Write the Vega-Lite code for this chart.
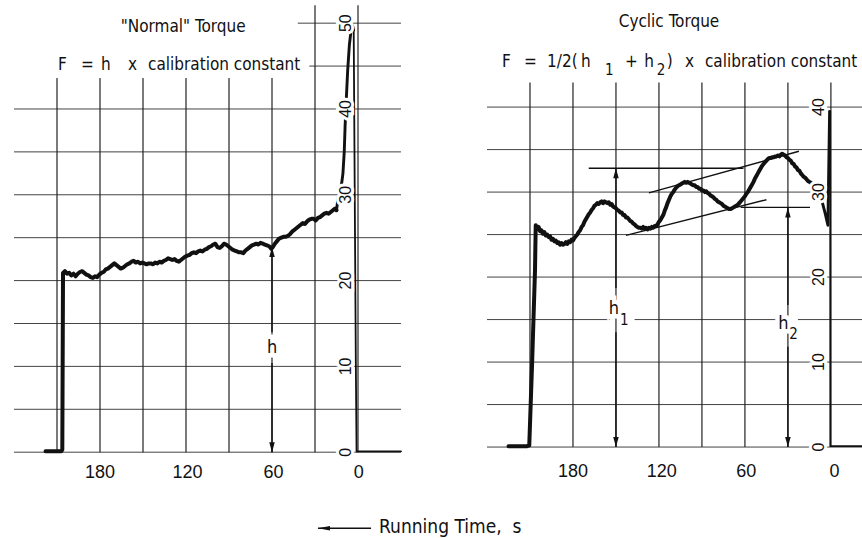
{
"$schema": "https://vega.github.io/schema/vega-lite/v6.json",
"padding": {"left": 13, "top": 0, "right": 0, "bottom": 0},
"background": "white",
"bounds": "flush",
"spacing": 86,
"config": {"view": {"stroke": null}},
"datasets": {
"curveL": [
{"s":"trace","t":218,"v":0.1},{"s":"trace","t":212,"v":0.1},{"s":"trace","t":207,"v":0.1},{"s":"trace","t":206.3,"v":0.3},{"s":"trace","t":205.8,"v":20.9},
{"s":"trace","t":204.5,"v":21.1},{"s":"trace","t":203,"v":20.8},{"s":"trace","t":201.5,"v":20.9},{"s":"trace","t":200,"v":20.6},{"s":"trace","t":198.5,"v":20.8},
{"s":"trace","t":197,"v":20.5},{"s":"trace","t":195.5,"v":20.8},{"s":"trace","t":194,"v":21.0},{"s":"trace","t":192.5,"v":21.1},{"s":"trace","t":191,"v":20.9},
{"s":"trace","t":189.5,"v":20.7},{"s":"trace","t":188,"v":20.6},{"s":"trace","t":186.5,"v":20.4},{"s":"trace","t":185,"v":20.3},{"s":"trace","t":183.5,"v":20.5},
{"s":"trace","t":182,"v":20.4},{"s":"trace","t":180.5,"v":20.7},{"s":"trace","t":179,"v":20.9},{"s":"trace","t":177.5,"v":21.0},{"s":"trace","t":176,"v":21.3},
{"s":"trace","t":174.5,"v":21.4},{"s":"trace","t":173,"v":21.6},{"s":"trace","t":171.5,"v":21.8},{"s":"trace","t":170,"v":22.0},{"s":"trace","t":168.5,"v":21.8},
{"s":"trace","t":167,"v":21.6},{"s":"trace","t":165.5,"v":21.4},{"s":"trace","t":164,"v":21.5},{"s":"trace","t":162.5,"v":21.7},{"s":"trace","t":161,"v":21.9},
{"s":"trace","t":159.5,"v":22.0},{"s":"trace","t":158,"v":22.2},{"s":"trace","t":156.5,"v":22.3},{"s":"trace","t":155,"v":22.1},{"s":"trace","t":153.5,"v":22.2},
{"s":"trace","t":152,"v":22.0},{"s":"trace","t":150.5,"v":22.1},{"s":"trace","t":149,"v":22.0},{"s":"trace","t":147.5,"v":21.9},{"s":"trace","t":146,"v":22.0},
{"s":"trace","t":144.5,"v":22.0},{"s":"trace","t":143,"v":21.9},{"s":"trace","t":141.5,"v":22.1},{"s":"trace","t":140,"v":22.0},{"s":"trace","t":138.5,"v":22.2},
{"s":"trace","t":137,"v":22.1},{"s":"trace","t":135.5,"v":22.3},{"s":"trace","t":134,"v":22.4},{"s":"trace","t":132.5,"v":22.6},{"s":"trace","t":131,"v":22.5},
{"s":"trace","t":129.5,"v":22.4},{"s":"trace","t":128,"v":22.5},{"s":"trace","t":126.5,"v":22.3},{"s":"trace","t":125,"v":22.2},{"s":"trace","t":123.5,"v":22.4},
{"s":"trace","t":122,"v":22.6},{"s":"trace","t":120.5,"v":22.8},{"s":"trace","t":119,"v":22.9},{"s":"trace","t":117.5,"v":23.0},{"s":"trace","t":116,"v":23.2},
{"s":"trace","t":114.5,"v":23.3},{"s":"trace","t":113,"v":23.2},{"s":"trace","t":111.5,"v":23.4},{"s":"trace","t":110,"v":23.5},{"s":"trace","t":108.5,"v":23.4},
{"s":"trace","t":107,"v":23.6},{"s":"trace","t":105.5,"v":23.7},{"s":"trace","t":104,"v":23.9},{"s":"trace","t":102.5,"v":24.0},{"s":"trace","t":101,"v":24.2},
{"s":"trace","t":99.5,"v":24.3},{"s":"trace","t":98,"v":23.9},{"s":"trace","t":96.5,"v":23.8},{"s":"trace","t":95,"v":24.0},{"s":"trace","t":93.5,"v":24.3},
{"s":"trace","t":92,"v":24.2},{"s":"trace","t":90.5,"v":24.0},{"s":"trace","t":89,"v":23.8},{"s":"trace","t":87.5,"v":23.6},{"s":"trace","t":86,"v":23.5},
{"s":"trace","t":84.5,"v":23.4},{"s":"trace","t":83,"v":23.3},{"s":"trace","t":81.5,"v":23.3},{"s":"trace","t":80,"v":23.2},{"s":"trace","t":78.5,"v":23.5},
{"s":"trace","t":77,"v":23.7},{"s":"trace","t":75.5,"v":23.9},{"s":"trace","t":74,"v":24.1},{"s":"trace","t":72.5,"v":24.2},{"s":"trace","t":71,"v":24.3},
{"s":"trace","t":69.5,"v":24.2},{"s":"trace","t":68,"v":24.4},{"s":"trace","t":66.5,"v":24.3},{"s":"trace","t":65,"v":24.2},{"s":"trace","t":63.5,"v":24.1},
{"s":"trace","t":62,"v":24.0},{"s":"trace","t":60.5,"v":23.7},{"s":"trace","t":59.5,"v":23.9},{"s":"trace","t":58,"v":24.3},{"s":"trace","t":56.5,"v":24.6},
{"s":"trace","t":55,"v":24.9},{"s":"trace","t":53.5,"v":25.0},{"s":"trace","t":52,"v":25.1},{"s":"trace","t":50.5,"v":25.1},{"s":"trace","t":49,"v":25.2},
{"s":"trace","t":47.5,"v":25.4},{"s":"trace","t":46,"v":25.7},{"s":"trace","t":44.5,"v":25.9},{"s":"trace","t":43,"v":26.1},{"s":"trace","t":41.5,"v":26.3},
{"s":"trace","t":40,"v":26.5},{"s":"trace","t":38.5,"v":26.7},{"s":"trace","t":37,"v":26.6},{"s":"trace","t":35.5,"v":26.9},{"s":"trace","t":34,"v":27.1},
{"s":"trace","t":32.5,"v":27.2},{"s":"trace","t":31,"v":27.2},{"s":"trace","t":29.5,"v":27.0},{"s":"trace","t":28,"v":27.3},{"s":"trace","t":26.5,"v":27.4},
{"s":"trace","t":25,"v":27.6},{"s":"trace","t":23.5,"v":27.8},{"s":"trace","t":22,"v":27.9},{"s":"trace","t":20.5,"v":27.8},{"s":"trace","t":19,"v":28.0},
{"s":"trace","t":17.5,"v":28.2},{"s":"trace","t":16,"v":28.4},{"s":"trace","t":15,"v":28.2},
{"s":"thin","t":15,"v":28.2},{"s":"thin","t":14,"v":29.5},{"s":"thin","t":13,"v":30.4},{"s":"thin","t":11.5,"v":31.2},{"s":"thin","t":10.5,"v":32.5},
{"s":"thin","t":9.6,"v":35},{"s":"thin","t":9,"v":38},{"s":"thin","t":8.2,"v":41},{"s":"thin","t":7.2,"v":44.5},{"s":"thin","t":6,"v":47.5},
{"s":"thin","t":4.8,"v":49.2},{"s":"thin","t":3.8,"v":49.7},{"s":"thin","t":3.0,"v":49.2},
{"s":"tail","t":3.0,"v":49.2},{"s":"tail","t":1.5,"v":10},{"s":"tail","t":1.0,"v":0.1},{"s":"tail","t":-30,"v":0.1}
],
"curveR": [
{"s":"trace","t":225,"v":0.1},{"s":"trace","t":212,"v":0.1},{"s":"trace","t":210.5,"v":0.2},{"s":"trace","t":208.5,"v":10},{"s":"trace","t":206.5,"v":20.8},
{"s":"trace","t":206,"v":26.1},{"s":"trace","t":205,"v":25.6},{"s":"trace","t":204,"v":25.9},{"s":"trace","t":203,"v":25.4},{"s":"trace","t":202,"v":25.5},
{"s":"trace","t":201,"v":25.1},{"s":"trace","t":200,"v":25.3},{"s":"trace","t":199,"v":24.9},{"s":"trace","t":198,"v":25.0},{"s":"trace","t":197,"v":24.7},
{"s":"trace","t":196,"v":24.8},{"s":"trace","t":195,"v":24.4},{"s":"trace","t":194,"v":24.5},{"s":"trace","t":193,"v":24.2},{"s":"trace","t":192,"v":24.3},
{"s":"trace","t":191,"v":24.0},{"s":"trace","t":190,"v":24.1},{"s":"trace","t":189,"v":23.8},{"s":"trace","t":188,"v":24.0},{"s":"trace","t":187,"v":23.8},
{"s":"trace","t":186,"v":23.9},{"s":"trace","t":185,"v":24.1},{"s":"trace","t":184,"v":23.9},{"s":"trace","t":183,"v":24.2},{"s":"trace","t":182,"v":24.1},
{"s":"trace","t":181,"v":24.4},{"s":"trace","t":180,"v":24.3},{"s":"trace","t":179,"v":24.6},{"s":"trace","t":178,"v":24.8},{"s":"trace","t":177,"v":25.0},
{"s":"trace","t":176,"v":25.3},{"s":"trace","t":175,"v":25.5},{"s":"trace","t":174,"v":25.9},{"s":"trace","t":173,"v":26.1},{"s":"trace","t":172,"v":26.5},
{"s":"trace","t":171,"v":26.8},{"s":"trace","t":170,"v":27.1},{"s":"trace","t":169,"v":27.4},{"s":"trace","t":168,"v":27.6},{"s":"trace","t":167,"v":27.9},
{"s":"trace","t":166,"v":28.1},{"s":"trace","t":165,"v":28.4},{"s":"trace","t":164,"v":28.5},{"s":"trace","t":163,"v":28.7},{"s":"trace","t":162,"v":28.6},
{"s":"trace","t":161,"v":28.8},{"s":"trace","t":160,"v":28.9},{"s":"trace","t":159,"v":28.7},{"s":"trace","t":158,"v":28.9},{"s":"trace","t":157,"v":28.8},
{"s":"trace","t":156,"v":28.7},{"s":"trace","t":155,"v":28.8},{"s":"trace","t":154,"v":28.5},{"s":"trace","t":153,"v":28.6},{"s":"trace","t":152,"v":28.3},
{"s":"trace","t":150,"v":28.1},{"s":"trace","t":149,"v":27.9},{"s":"trace","t":148,"v":27.8},{"s":"trace","t":147,"v":27.6},{"s":"trace","t":146,"v":27.6},
{"s":"trace","t":145,"v":27.3},{"s":"trace","t":144,"v":27.3},{"s":"trace","t":143,"v":27.0},{"s":"trace","t":142,"v":27.0},{"s":"trace","t":141,"v":26.8},
{"s":"trace","t":140,"v":26.6},{"s":"trace","t":139,"v":26.5},{"s":"trace","t":138,"v":26.3},{"s":"trace","t":137,"v":26.2},{"s":"trace","t":136,"v":26.0},
{"s":"trace","t":135,"v":25.9},{"s":"trace","t":134,"v":25.8},{"s":"trace","t":133,"v":25.8},{"s":"trace","t":132,"v":25.7},{"s":"trace","t":131,"v":25.9},
{"s":"trace","t":130,"v":25.7},{"s":"trace","t":129,"v":25.8},{"s":"trace","t":128,"v":25.6},{"s":"trace","t":127,"v":25.8},{"s":"trace","t":126,"v":25.7},
{"s":"trace","t":125,"v":25.9},{"s":"trace","t":124,"v":25.8},{"s":"trace","t":123,"v":26.0},{"s":"trace","t":122,"v":26.0},{"s":"trace","t":121,"v":26.2},
{"s":"trace","t":120,"v":26.5},{"s":"trace","t":119,"v":26.7},{"s":"trace","t":118,"v":27.0},{"s":"trace","t":117,"v":27.3},{"s":"trace","t":116,"v":27.8},
{"s":"trace","t":115,"v":28.2},{"s":"trace","t":114,"v":28.7},{"s":"trace","t":113,"v":29.1},{"s":"trace","t":112,"v":29.5},{"s":"trace","t":111,"v":29.8},
{"s":"trace","t":110,"v":30.0},{"s":"trace","t":109,"v":30.3},{"s":"trace","t":108,"v":30.5},{"s":"trace","t":107,"v":30.7},{"s":"trace","t":106,"v":30.8},
{"s":"trace","t":105,"v":30.9},{"s":"trace","t":104,"v":31.0},{"s":"trace","t":103,"v":31.1},{"s":"trace","t":102,"v":31.2},{"s":"trace","t":101,"v":31.1},
{"s":"trace","t":100,"v":31.2},{"s":"trace","t":99,"v":31.1},{"s":"trace","t":98,"v":31.0},{"s":"trace","t":97,"v":30.9},{"s":"trace","t":96,"v":30.8},
{"s":"trace","t":95,"v":30.8},{"s":"trace","t":94,"v":30.6},{"s":"trace","t":93,"v":30.6},{"s":"trace","t":92,"v":30.4},{"s":"trace","t":91,"v":30.4},
{"s":"trace","t":90,"v":30.2},{"s":"trace","t":89,"v":30.2},{"s":"trace","t":88,"v":30.0},{"s":"trace","t":87,"v":30.1},{"s":"trace","t":86,"v":29.9},
{"s":"trace","t":85,"v":29.8},{"s":"trace","t":84,"v":29.6},{"s":"trace","t":83,"v":29.5},{"s":"trace","t":82,"v":29.4},{"s":"trace","t":81,"v":29.2},
{"s":"trace","t":80,"v":29.1},{"s":"trace","t":79,"v":28.9},{"s":"trace","t":78,"v":28.8},{"s":"trace","t":77,"v":28.7},{"s":"trace","t":76,"v":28.6},
{"s":"trace","t":75,"v":28.4},{"s":"trace","t":74,"v":28.3},{"s":"trace","t":73,"v":28.2},{"s":"trace","t":72,"v":28.1},{"s":"trace","t":71,"v":28.0},
{"s":"trace","t":70,"v":28.0},{"s":"trace","t":69,"v":28.1},{"s":"trace","t":68,"v":28.2},{"s":"trace","t":67,"v":28.3},{"s":"trace","t":66,"v":28.4},
{"s":"trace","t":65,"v":28.5},{"s":"trace","t":64,"v":28.7},{"s":"trace","t":63,"v":28.9},{"s":"trace","t":62,"v":29.1},{"s":"trace","t":61,"v":29.3},
{"s":"trace","t":60,"v":29.5},{"s":"trace","t":59,"v":29.8},{"s":"trace","t":58,"v":30.0},{"s":"trace","t":57,"v":30.3},{"s":"trace","t":56,"v":30.6},
{"s":"trace","t":55,"v":30.9},{"s":"trace","t":54,"v":31.2},{"s":"trace","t":53,"v":31.6},{"s":"trace","t":52,"v":31.9},{"s":"trace","t":51,"v":32.2},
{"s":"trace","t":50,"v":32.5},{"s":"trace","t":49,"v":32.8},{"s":"trace","t":48,"v":33.1},{"s":"trace","t":47,"v":33.3},{"s":"trace","t":46,"v":33.5},
{"s":"trace","t":45,"v":33.7},{"s":"trace","t":44,"v":33.9},{"s":"trace","t":43,"v":34.0},{"s":"trace","t":42,"v":34.0},{"s":"trace","t":41,"v":34.1},
{"s":"trace","t":40,"v":34.1},{"s":"trace","t":39,"v":34.2},{"s":"trace","t":38,"v":34.2},{"s":"trace","t":37,"v":34.3},{"s":"trace","t":36,"v":34.2},
{"s":"trace","t":35,"v":34.4},{"s":"trace","t":34,"v":34.5},{"s":"trace","t":33,"v":34.4},{"s":"trace","t":32,"v":34.3},{"s":"trace","t":31,"v":34.1},
{"s":"trace","t":30,"v":34.0},{"s":"trace","t":29,"v":33.8},{"s":"trace","t":28,"v":33.7},{"s":"trace","t":27,"v":33.4},{"s":"trace","t":26,"v":33.3},
{"s":"trace","t":25,"v":33.0},{"s":"trace","t":24,"v":32.9},{"s":"trace","t":23,"v":32.6},{"s":"trace","t":22,"v":32.5},{"s":"trace","t":21,"v":32.2},
{"s":"trace","t":20,"v":32.0},{"s":"trace","t":19,"v":31.8},{"s":"trace","t":18,"v":31.7},{"s":"trace","t":17,"v":31.5},{"s":"trace","t":16,"v":31.3},
{"s":"trace","t":15,"v":31.2},{"s":"trace","t":14,"v":31.1},
{"s":"thin","t":14,"v":31.1},{"s":"thin","t":12,"v":30.4},{"s":"thin","t":9,"v":29.6},{"s":"thin","t":6,"v":28.8},{"s":"thin","t":4,"v":27.5},
{"s":"thin","t":2.1,"v":26.1},{"s":"thin","t":0.9,"v":39.5},
{"s":"tail","t":0.9,"v":39.5},{"s":"tail","t":0.5,"v":39.5},{"s":"tail","t":0.4,"v":0.1},{"s":"tail","t":-22.4,"v":0.1}
],
"seg": [
{"p":"L","k":"gh","t":240,"v":0,"t2":-30,"v2":0},{"p":"L","k":"gh","t":240,"v":5,"t2":-30,"v2":5},{"p":"L","k":"gh","t":240,"v":10,"t2":-30,"v2":10},
{"p":"L","k":"gh","t":240,"v":15,"t2":-30,"v2":15},{"p":"L","k":"gh","t":240,"v":20,"t2":-30,"v2":20},{"p":"L","k":"gh","t":240,"v":25,"t2":-30,"v2":25},
{"p":"L","k":"gh","t":240,"v":30,"t2":-30,"v2":30},{"p":"L","k":"gh","t":240,"v":35,"t2":-30,"v2":35},{"p":"L","k":"gh","t":240,"v":40,"t2":-30,"v2":40},
{"p":"L","k":"gh","t":34,"v":45,"t2":-30,"v2":45},{"p":"L","k":"gh","t":42,"v":50,"t2":-30,"v2":50},
{"p":"L","k":"gv","t":210,"v":0,"t2":210,"v2":43.6},{"p":"L","k":"gv","t":180,"v":0,"t2":180,"v2":43.6},{"p":"L","k":"gv","t":150,"v":0,"t2":150,"v2":43.6},
{"p":"L","k":"gv","t":120,"v":0,"t2":120,"v2":43.6},{"p":"L","k":"gv","t":90,"v":0,"t2":90,"v2":43.6},{"p":"L","k":"gv","t":60,"v":0,"t2":60,"v2":43.6},
{"p":"L","k":"gv","t":30,"v":0,"t2":30,"v2":52.1},{"p":"L","k":"gv","t":0,"v":0,"t2":0,"v2":52.1},
{"p":"R","k":"gh","t":240,"v":0,"t2":-22.4,"v2":0},{"p":"R","k":"gh","t":240,"v":5,"t2":-22.4,"v2":5},{"p":"R","k":"gh","t":240,"v":10,"t2":-22.4,"v2":10},
{"p":"R","k":"gh","t":240,"v":15,"t2":154.5,"v2":15},{"p":"R","k":"gh","t":137,"v":15,"t2":37.5,"v2":15},{"p":"R","k":"gh","t":23,"v":15,"t2":-22.4,"v2":15},
{"p":"R","k":"gh","t":240,"v":20,"t2":-22.4,"v2":20},{"p":"R","k":"gh","t":240,"v":25,"t2":-22.4,"v2":25},
{"p":"R","k":"gh","t":240,"v":30,"t2":-22.4,"v2":30},{"p":"R","k":"gh","t":240,"v":35,"t2":-22.4,"v2":35},{"p":"R","k":"gh","t":240,"v":40,"t2":-22.4,"v2":40},
{"p":"R","k":"gv","t":210,"v":0,"t2":210,"v2":42.9},{"p":"R","k":"gv","t":180,"v":0,"t2":180,"v2":42.9},{"p":"R","k":"gv","t":150,"v":0,"t2":150,"v2":42.9},
{"p":"R","k":"gv","t":120,"v":0,"t2":120,"v2":42.9},{"p":"R","k":"gv","t":90,"v":0,"t2":90,"v2":42.9},{"p":"R","k":"gv","t":60,"v":0,"t2":60,"v2":42.9},
{"p":"R","k":"gv","t":30,"v":0,"t2":30,"v2":42.9},{"p":"R","k":"gv","t":0,"v":0,"t2":0,"v2":42.9},
{"p":"L","k":"a","t":60,"v":23.9,"t2":60,"v2":14.0},{"p":"L","k":"a","t":60,"v":10.4,"t2":60,"v2":0},
{"p":"L","k":"a","t":27.9,"v":-8.86,"t2":-9.1,"v2":-8.86},
{"p":"R","k":"a","t":169,"v":32.8,"t2":61,"v2":32.8},{"p":"R","k":"a","t":63,"v":28.2,"t2":14.6,"v2":28.2},
{"p":"R","k":"a","t":127,"v":29.9,"t2":22.3,"v2":34.8},{"p":"R","k":"a","t":143,"v":24.9,"t2":45,"v2":29.1},
{"p":"R","k":"a","t":150,"v":32.8,"t2":150,"v2":18.7},{"p":"R","k":"a","t":150,"v":13.5,"t2":150,"v2":0},
{"p":"R","k":"a","t":30,"v":28.2,"t2":30,"v2":16.7},{"p":"R","k":"a","t":30,"v":11.8,"t2":30,"v2":0}
],
"heads": [
{"p":"L","t":60,"v":23.9,"dir":"up"},{"p":"L","t":60,"v":0,"dir":"down"},{"p":"L","t":27.9,"v":-8.86,"dir":"left"},
{"p":"R","t":150,"v":32.8,"dir":"up"},{"p":"R","t":150,"v":0,"dir":"down"},
{"p":"R","t":30,"v":28.2,"dir":"up"},{"p":"R","t":30,"v":0,"dir":"down"}
],
"txt": [
{"p":"L","k":"title","text":"\"Normal\" Torque","t":122,"v":49.0},
{"p":"R","k":"title","text":"Cyclic Torque","t":113,"v":49.4},
{"p":"L","k":"f","text":"F","t":209.3,"v":44.5},{"p":"L","k":"f","text":"=","t":193.3,"v":44.5},{"p":"L","k":"f","text":"h","t":179.3,"v":44.5},
{"p":"L","k":"f","text":"x","t":160.5,"v":44.5},{"p":"L","k":"f","text":"calibration constant","t":146.5,"v":44.5},
{"p":"R","k":"f","text":"F","t":229.5,"v":44.7},{"p":"R","k":"f","text":"=","t":214.2,"v":44.7},
{"p":"R","k":"f","text":"1/2(","t":198.1,"v":44.7},
{"p":"R","k":"f","text":"h","t":174.4,"v":44.7},{"p":"R","k":"f","text":"+","t":143.7,"v":44.7},{"p":"R","k":"f","text":"h","t":130.2,"v":44.7},
{"p":"R","k":"f","text":")","t":114.6,"v":44.7},{"p":"R","k":"f","text":"x","t":101.9,"v":44.7},{"p":"R","k":"f","text":"calibration constant","t":87.9,"v":44.7},
{"p":"R","k":"fs","text":"1","t":157.7,"v":43.8},{"p":"R","k":"fs","text":"2","t":121.6,"v":43.8},
{"p":"L","k":"h","text":"h","t":60,"v":12.1},
{"p":"R","k":"h","text":"h","t":151.5,"v":16.2},{"p":"R","k":"hs","text":"1","t":144.2,"v":15.0},
{"p":"R","k":"h","text":"h","t":33.2,"v":14.5},{"p":"R","k":"hs","text":"2","t":26.0,"v":13.3},
{"p":"L","k":"tick","text":"180","t":180,"v":-3.0},{"p":"L","k":"tick","text":"120","t":119,"v":-3.0},{"p":"L","k":"tick","text":"60","t":59,"v":-3.0},{"p":"L","k":"tick","text":"0","t":-0.5,"v":-3.0},
{"p":"R","k":"tick","text":"180","t":180,"v":-3.5},{"p":"R","k":"tick","text":"120","t":118,"v":-3.5},{"p":"R","k":"tick","text":"60","t":59,"v":-3.5},{"p":"R","k":"tick","text":"0","t":-2.5,"v":-3.5},
{"p":"L","k":"y","text":"50","t":8.5,"v":50},{"p":"L","k":"y","text":"40","t":8.5,"v":40},{"p":"L","k":"y","text":"30","t":8.5,"v":30},
{"p":"L","k":"y","text":"20","t":8.5,"v":20},{"p":"L","k":"y","text":"10","t":8.5,"v":10},{"p":"L","k":"y","text":"0","t":8.5,"v":0},
{"p":"R","k":"y","text":"40","t":8,"v":40},{"p":"R","k":"y","text":"30","t":8,"v":30},{"p":"R","k":"y","text":"20","t":8,"v":20},
{"p":"R","k":"y","text":"10","t":8,"v":10},{"p":"R","k":"y","text":"0","t":8,"v":0},
{"p":"L","k":"axis","text":"Running Time,\u00a0 s","t":-14.7,"v":-9.44}
]
},
"hconcat": [
{
"width": 387, "height": 538,
"encoding": {
"x": {"field": "t", "type": "quantitative", "scale": {"domain": [-30, 240], "reverse": true, "nice": false, "zero": false}, "axis": null},
"y": {"field": "v", "type": "quantitative", "scale": {"domain": [-10, 52.7], "nice": false, "zero": false}, "axis": null}
},
"layer": [
{"data": {"name": "seg"}, "transform": [{"filter": "datum.p == 'L' && datum.k == 'gh'"}], "mark": {"type": "rule", "stroke": "#444", "strokeWidth": 1}, "encoding": {"x2": {"field": "t2"}, "y2": {"field": "v2"}}},
{"data": {"name": "seg"}, "transform": [{"filter": "datum.p == 'L' && datum.k == 'gv'"}], "mark": {"type": "rule", "stroke": "#222", "strokeWidth": 1.2}, "encoding": {"x2": {"field": "t2"}, "y2": {"field": "v2"}}},
{"data": {"name": "seg"}, "transform": [{"filter": "datum.p == 'L' && datum.k == 'a'"}], "mark": {"type": "rule", "stroke": "#111", "strokeWidth": 1.4}, "encoding": {"x2": {"field": "t2"}, "y2": {"field": "v2"}}},
{"data": {"name": "curveL"}, "mark": {"type": "line", "color": "#111", "strokeCap": "round", "strokeJoin": "round"},
 "encoding": {"order": {"value": null}, "detail": {"field": "s"}, "strokeWidth": {"field": "s", "type": "nominal", "scale": {"domain": ["trace", "thin", "tail"], "range": [4, 1.8, 3]}, "legend": null}}},
{"data": {"name": "heads"}, "transform": [{"filter": "datum.p == 'L'"}], "mark": {"type": "point", "filled": true, "color": "#111", "size": 100, "opacity": 1},
 "encoding": {"shape": {"field": "dir", "type": "nominal", "scale": {"domain": ["up", "down", "left"], "range": ["M0,0L-0.55,2L0.55,2Z", "M0,0L-0.55,-2L0.55,-2Z", "M0,0L2.4,-0.45L2.4,0.45Z"]}, "legend": null}}},
{"data": {"name": "txt"}, "transform": [{"filter": "datum.p == 'L' && datum.k == 'y'"}], "mark": {"type": "text", "font": "Liberation Sans Narrow, sans-serif", "fontSize": 16, "angle": 270, "align": "center", "baseline": "middle", "fill": "white", "stroke": "white", "strokeWidth": 6}, "encoding": {"text": {"field": "text"}}},
{"data": {"name": "txt"}, "transform": [{"filter": "datum.p == 'L' && datum.k == 'y'"}], "mark": {"type": "text", "font": "Liberation Sans Narrow, sans-serif", "fontSize": 16, "angle": 270, "align": "center", "baseline": "middle", "fill": "#111"}, "encoding": {"text": {"field": "text"}}},
{"data": {"name": "txt"}, "transform": [{"filter": "datum.p == 'L' && datum.k == 'tick'"}], "mark": {"type": "text", "font": "Liberation Sans Narrow, sans-serif", "fontSize": 18, "align": "center", "baseline": "alphabetic", "fill": "#111"}, "encoding": {"text": {"field": "text"}}},
{"data": {"name": "txt"}, "transform": [{"filter": "datum.p == 'L' && datum.k == 'title'"}], "mark": {"type": "text", "font": "DejaVu Sans Condensed, Liberation Sans Narrow, sans-serif", "fontSize": 17, "align": "center", "baseline": "alphabetic", "fill": "#111"}, "encoding": {"text": {"field": "text"}}},
{"data": {"name": "txt"}, "transform": [{"filter": "datum.p == 'L' && datum.k == 'f'"}], "mark": {"type": "text", "font": "DejaVu Sans Condensed, Liberation Sans Narrow, sans-serif", "fontSize": 17, "align": "left", "baseline": "alphabetic", "fill": "#111"}, "encoding": {"text": {"field": "text"}}},
{"data": {"name": "txt"}, "transform": [{"filter": "datum.p == 'L' && datum.k == 'h'"}], "mark": {"type": "text", "font": "DejaVu Sans Condensed, Liberation Sans Narrow, sans-serif", "fontSize": 18, "align": "center", "baseline": "middle", "fill": "white", "stroke": "white", "strokeWidth": 9}, "encoding": {"text": {"field": "text"}}},
{"data": {"name": "txt"}, "transform": [{"filter": "datum.p == 'L' && datum.k == 'h'"}], "mark": {"type": "text", "font": "DejaVu Sans Condensed, Liberation Sans Narrow, sans-serif", "fontSize": 18, "align": "center", "baseline": "middle", "fill": "#111"}, "encoding": {"text": {"field": "text"}}},
{"data": {"name": "txt"}, "transform": [{"filter": "datum.p == 'L' && datum.k == 'axis'"}], "mark": {"type": "text", "font": "DejaVu Sans Condensed, Liberation Sans Narrow, sans-serif", "fontSize": 19, "align": "left", "baseline": "alphabetic", "fill": "#111"}, "encoding": {"text": {"field": "text"}}}
]
},
{
"width": 376, "height": 538,
"encoding": {
"x": {"field": "t", "type": "quantitative", "scale": {"domain": [-22.4, 240], "reverse": true, "nice": false, "zero": false}, "axis": null},
"y": {"field": "v", "type": "quantitative", "scale": {"domain": [-10.7, 52.6], "nice": false, "zero": false}, "axis": null}
},
"layer": [
{"data": {"name": "seg"}, "transform": [{"filter": "datum.p == 'R' && datum.k == 'gh'"}], "mark": {"type": "rule", "stroke": "#444", "strokeWidth": 1}, "encoding": {"x2": {"field": "t2"}, "y2": {"field": "v2"}}},
{"data": {"name": "seg"}, "transform": [{"filter": "datum.p == 'R' && datum.k == 'gv'"}], "mark": {"type": "rule", "stroke": "#222", "strokeWidth": 1.2}, "encoding": {"x2": {"field": "t2"}, "y2": {"field": "v2"}}},
{"data": {"name": "seg"}, "transform": [{"filter": "datum.p == 'R' && datum.k == 'a'"}], "mark": {"type": "rule", "stroke": "#111", "strokeWidth": 1.4}, "encoding": {"x2": {"field": "t2"}, "y2": {"field": "v2"}}},
{"data": {"name": "curveR"}, "mark": {"type": "line", "color": "#111", "strokeCap": "round", "strokeJoin": "round"},
 "encoding": {"order": {"value": null}, "detail": {"field": "s"}, "strokeWidth": {"field": "s", "type": "nominal", "scale": {"domain": ["trace", "thin", "tail"], "range": [4, 1.8, 3]}, "legend": null}}},
{"data": {"name": "heads"}, "transform": [{"filter": "datum.p == 'R'"}], "mark": {"type": "point", "filled": true, "color": "#111", "size": 100, "opacity": 1},
 "encoding": {"shape": {"field": "dir", "type": "nominal", "scale": {"domain": ["up", "down", "left"], "range": ["M0,0L-0.55,2L0.55,2Z", "M0,0L-0.55,-2L0.55,-2Z", "M0,0L2.4,-0.45L2.4,0.45Z"]}, "legend": null}}},
{"data": {"name": "txt"}, "transform": [{"filter": "datum.p == 'R' && datum.k == 'y'"}], "mark": {"type": "text", "font": "Liberation Sans Narrow, sans-serif", "fontSize": 16, "angle": 270, "align": "center", "baseline": "middle", "fill": "white", "stroke": "white", "strokeWidth": 6}, "encoding": {"text": {"field": "text"}}},
{"data": {"name": "txt"}, "transform": [{"filter": "datum.p == 'R' && datum.k == 'y'"}], "mark": {"type": "text", "font": "Liberation Sans Narrow, sans-serif", "fontSize": 16, "angle": 270, "align": "center", "baseline": "middle", "fill": "#111"}, "encoding": {"text": {"field": "text"}}},
{"data": {"name": "txt"}, "transform": [{"filter": "datum.p == 'R' && datum.k == 'tick'"}], "mark": {"type": "text", "font": "Liberation Sans Narrow, sans-serif", "fontSize": 18, "align": "center", "baseline": "alphabetic", "fill": "#111"}, "encoding": {"text": {"field": "text"}}},
{"data": {"name": "txt"}, "transform": [{"filter": "datum.p == 'R' && datum.k == 'title'"}], "mark": {"type": "text", "font": "DejaVu Sans Condensed, Liberation Sans Narrow, sans-serif", "fontSize": 17, "align": "center", "baseline": "alphabetic", "fill": "#111"}, "encoding": {"text": {"field": "text"}}},
{"data": {"name": "txt"}, "transform": [{"filter": "datum.p == 'R' && datum.k == 'f'"}], "mark": {"type": "text", "font": "DejaVu Sans Condensed, Liberation Sans Narrow, sans-serif", "fontSize": 17, "align": "left", "baseline": "alphabetic", "fill": "#111"}, "encoding": {"text": {"field": "text"}}},
{"data": {"name": "txt"}, "transform": [{"filter": "datum.p == 'R' && datum.k == 'fs'"}], "mark": {"type": "text", "font": "DejaVu Sans Condensed, Liberation Sans Narrow, sans-serif", "fontSize": 15, "align": "left", "baseline": "alphabetic", "fill": "#111"}, "encoding": {"text": {"field": "text"}}},
{"data": {"name": "txt"}, "transform": [{"filter": "datum.p == 'R' && datum.k == 'h'"}], "mark": {"type": "text", "font": "DejaVu Sans Condensed, Liberation Sans Narrow, sans-serif", "fontSize": 18, "align": "center", "baseline": "middle", "fill": "white", "stroke": "white", "strokeWidth": 9}, "encoding": {"text": {"field": "text"}}},
{"data": {"name": "txt"}, "transform": [{"filter": "datum.p == 'R' && datum.k == 'h'"}], "mark": {"type": "text", "font": "DejaVu Sans Condensed, Liberation Sans Narrow, sans-serif", "fontSize": 18, "align": "center", "baseline": "middle", "fill": "#111"}, "encoding": {"text": {"field": "text"}}},
{"data": {"name": "txt"}, "transform": [{"filter": "datum.p == 'R' && datum.k == 'hs'"}], "mark": {"type": "text", "font": "DejaVu Sans Condensed, Liberation Sans Narrow, sans-serif", "fontSize": 15, "align": "center", "baseline": "middle", "fill": "#111"}, "encoding": {"text": {"field": "text"}}}
]
}
]
}
